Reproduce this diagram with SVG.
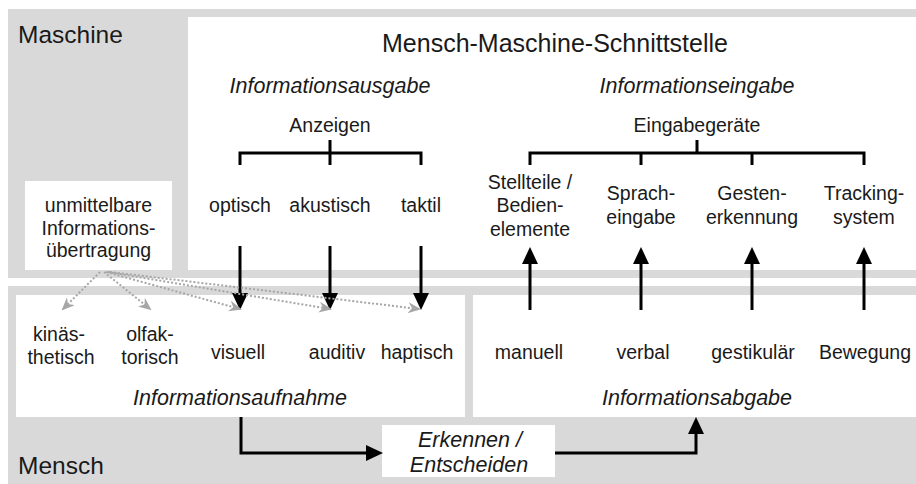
<svg xmlns="http://www.w3.org/2000/svg" width="916" height="484" viewBox="0 0 916 484">
  <style>
    text { font-family: "Liberation Sans", Arial, sans-serif; fill: #1a1a1a; text-anchor: middle; }
    .lbl { font-size: 19.5px; }
    .head { font-size: 21.5px; font-style: italic; }
    .big { font-size: 24.5px; text-anchor: start; }
    .title { font-size: 25px; }
    .zone { fill: #d9d9d9; }
    .panel { fill: #ffffff; }
    .bk { fill: none; stroke: #000; stroke-width: 3; }
    .dot { fill: none; stroke: #a6a6a6; stroke-width: 2; stroke-dasharray: 2 2; }
  </style>
  <defs>
    <marker id="ah" markerUnits="userSpaceOnUse" markerWidth="17" markerHeight="16" viewBox="0 0 17 16" refX="4" refY="8" orient="auto">
      <path d="M0,0 L17,8 L0,16 z" fill="#000"/>
    </marker>
    <marker id="ag" markerUnits="userSpaceOnUse" markerWidth="13" markerHeight="11" viewBox="0 0 13 11" refX="11" refY="5.5" orient="auto">
      <path d="M0,0 L13,5.5 L0,11 L4,5.5 z" fill="#a6a6a6"/>
    </marker>
  </defs>

  <rect width="916" height="484" fill="#ffffff"/>

  <!-- machine side -->
  <g id="maschine">
    <rect class="zone" x="8" y="9" width="908" height="269"/>
    <text class="big" x="18" y="43">Maschine</text>
  </g>

  <!-- human side -->
  <g id="mensch">
    <rect class="zone" x="8" y="286" width="908" height="198"/>
    <text class="big" x="18" y="474">Mensch</text>
  </g>

  <!-- interface panel -->
  <g id="schnittstelle">
    <rect class="panel" x="188" y="17" width="728" height="253"/>
    <text class="title" x="555" y="52">Mensch-Maschine-Schnittstelle</text>
  </g>

  <g id="ausgabe">
    <text class="head" x="330" y="93">Informationsausgabe</text>
    <text class="lbl" x="330" y="132">Anzeigen</text>
    <text class="lbl" x="240" y="212">optisch</text>
    <text class="lbl" x="330" y="212">akustisch</text>
    <text class="lbl" x="421" y="212">taktil</text>
  </g>

  <g id="eingabe">
    <text class="head" x="697" y="93">Informationseingabe</text>
    <text class="lbl" x="697" y="132">Eingabegeräte</text>
    <text class="lbl" x="530" y="189">Stellteile /</text>
    <text class="lbl" x="530" y="212">Bedien-</text>
    <text class="lbl" x="530" y="236">elemente</text>
    <text class="lbl" x="641" y="200">Sprach-</text>
    <text class="lbl" x="641" y="224">eingabe</text>
    <text class="lbl" x="752" y="200">Gesten-</text>
    <text class="lbl" x="752" y="224">erkennung</text>
    <text class="lbl" x="864" y="200">Tracking-</text>
    <text class="lbl" x="864" y="224">system</text>
  </g>

  <g id="unmittelbar">
    <rect class="panel" x="25" y="181" width="147" height="89"/>
    <text class="lbl" x="98.5" y="212">unmittelbare</text>
    <text class="lbl" x="98.5" y="235">Informations-</text>
    <text class="lbl" x="98.5" y="257">übertragung</text>
  </g>

  <g id="aufnahme">
    <rect class="panel" x="16" y="295" width="449" height="122"/>
    <text class="lbl" x="59" y="341">kinäs-</text>
    <text class="lbl" x="61" y="364">thetisch</text>
    <text class="lbl" x="150" y="341">olfak-</text>
    <text class="lbl" x="150" y="364">torisch</text>
    <text class="lbl" x="238" y="359">visuell</text>
    <text class="lbl" x="337" y="359">auditiv</text>
    <text class="lbl" x="417" y="359">haptisch</text>
    <text class="head" x="240" y="405">Informationsaufnahme</text>
  </g>

  <g id="abgabe">
    <rect class="panel" x="473" y="295" width="443" height="122"/>
    <text class="lbl" x="529" y="359">manuell</text>
    <text class="lbl" x="643" y="359">verbal</text>
    <text class="lbl" x="753" y="359">gestikulär</text>
    <text class="lbl" x="865" y="359">Bewegung</text>
    <text class="head" x="697" y="405">Informationsabgabe</text>
  </g>

  <g id="erkennen">
    <rect class="panel" x="382" y="425" width="173" height="52"/>
    <text class="head" x="470" y="447">Erkennen /</text>
    <text class="head" x="469" y="472">Entscheiden</text>
  </g>

  <g id="connectors">
    <!-- brackets -->
    <path class="bk" d="M330,140 V153 M240,165 V153 H421 V165 M330,153 V165"/>
    <path class="bk" d="M697,140 V153 M530,165 V153 H864 V165 M641,153 V165 M752,153 V165"/>
    <!-- output to perception -->
    <line class="bk" x1="240" y1="246" x2="240" y2="297" marker-end="url(#ah)"/>
    <line class="bk" x1="330" y1="246" x2="330" y2="297" marker-end="url(#ah)"/>
    <line class="bk" x1="421" y1="246" x2="421" y2="297" marker-end="url(#ah)"/>
    <!-- action to input -->
    <line class="bk" x1="530" y1="310" x2="530" y2="260" marker-end="url(#ah)"/>
    <line class="bk" x1="641" y1="310" x2="641" y2="260" marker-end="url(#ah)"/>
    <line class="bk" x1="752" y1="310" x2="752" y2="260" marker-end="url(#ah)"/>
    <line class="bk" x1="864" y1="310" x2="864" y2="260" marker-end="url(#ah)"/>
    <!-- processing loop -->
    <path class="bk" d="M241,417 V453 H370" marker-end="url(#ah)"/>
    <path class="bk" d="M555,453 H696 V430" marker-end="url(#ah)"/>
    <!-- direct transfer -->
    <line class="dot" x1="100" y1="272" x2="63" y2="309" marker-end="url(#ag)"/>
    <line class="dot" x1="104" y1="272" x2="150" y2="309" marker-end="url(#ag)"/>
    <line class="dot" x1="106" y1="272" x2="240" y2="309" marker-end="url(#ag)"/>
    <line class="dot" x1="108" y1="272" x2="330" y2="309" marker-end="url(#ag)"/>
    <line class="dot" x1="110" y1="272" x2="419" y2="309" marker-end="url(#ag)"/>
  </g>
</svg>
